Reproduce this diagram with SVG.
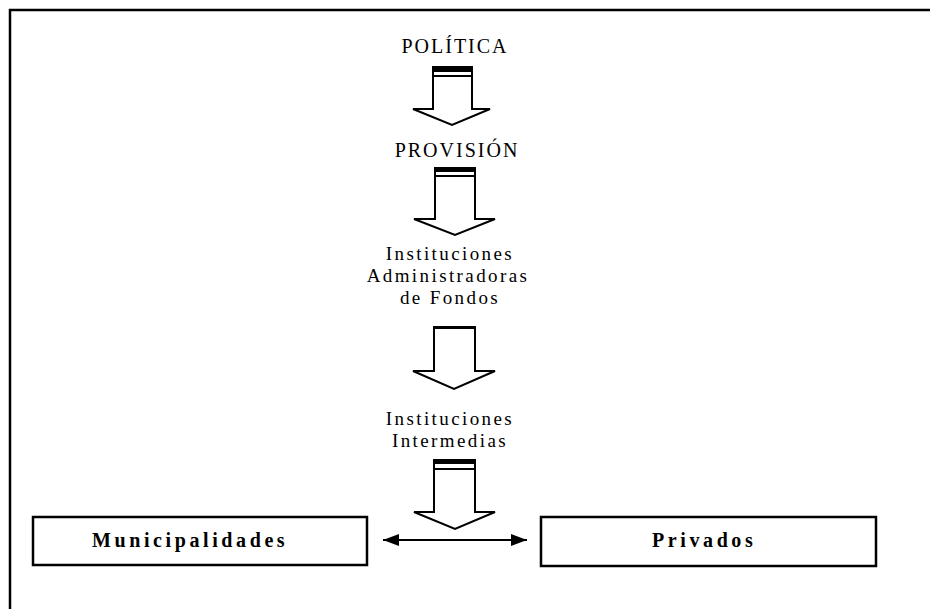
<svg xmlns="http://www.w3.org/2000/svg" width="930" height="609" viewBox="0 0 930 609">
<defs>
<style>
.lbl{font-family:"Liberation Serif","Times New Roman",serif;font-size:19px;fill:#000;text-anchor:middle;letter-spacing:2.4px}
.big{font-family:"Liberation Serif","Times New Roman",serif;font-size:20px;fill:#000;letter-spacing:2px;text-anchor:middle}
.bold{font-family:"Liberation Serif","Times New Roman",serif;font-size:20px;font-weight:bold;fill:#000;letter-spacing:3.6px}
.box{fill:#fff;stroke:#000;stroke-width:2.5}
.arr{fill:#fff;stroke:#000;stroke-width:2;stroke-linejoin:miter}
.line{stroke:#000;stroke-width:2;fill:none}
</style>
<marker id="ah" viewBox="0 0 16 12" refX="16" refY="6" markerWidth="16" markerHeight="12" markerUnits="userSpaceOnUse" orient="auto-start-reverse">
<path d="M0,0 L16,6 L0,12 Z" fill="#000"/>
</marker>
</defs>
<rect width="930" height="609" fill="#fff"/>
<g id="frame">
<path d="M10,609 V10 H930" fill="none" stroke="#000" stroke-width="2.5"/>
</g>
<g id="politica"><text class="big" x="455" y="53">POLÍTICA</text></g>
<g id="provision"><text class="big" x="457" y="157">PROVISIÓN</text></g>
<g id="administradoras">
<text class="lbl" x="450" y="260">Instituciones</text>
<text class="lbl" x="448" y="282">Administradoras</text>
<text class="lbl" x="450" y="304">de Fondos</text>
</g>
<g id="intermedias">
<text class="lbl" x="450" y="425">Instituciones</text>
<text class="lbl" x="450" y="447">Intermedias</text>
</g>
<g id="municipalidades">
<rect class="box" x="33" y="517" width="334" height="48"/>
<text class="bold" x="92" y="547">Municipalidades</text>
</g>
<g id="privados">
<rect class="box" x="541" y="517" width="335" height="49"/>
<text class="bold" x="652" y="547">Privados</text>
</g>
<g id="connectors">
<g id="arrow1">
<path class="arr" d="M433,67 H472 V109 H490 L452,125 L413,109 H433 Z"/>
<rect x="433" y="66" width="39" height="6" fill="#000"/>
<line x1="433" y1="76" x2="472" y2="76" stroke="#000" stroke-width="2"/>
</g>
<g id="arrow2">
<path class="arr" d="M435,168 H475 V219 H495 L455,235 L414,219 H435 Z"/>
<rect x="435" y="167" width="40" height="5" fill="#000"/>
<line x1="435" y1="176" x2="475" y2="176" stroke="#000" stroke-width="2"/>
</g>
<g id="arrow3">
<path class="arr" d="M434,327 H475 V371 H495 L454,389 L413,371 H434 Z"/>
<rect x="434" y="326" width="41" height="3" fill="#000"/>
</g>
<g id="arrow4">
<path class="arr" d="M434,460 H475 V512 H495 L455,529 L414,512 H434 Z"/>
<rect x="434" y="459" width="41" height="5" fill="#000"/>
<line x1="434" y1="469" x2="475" y2="469" stroke="#000" stroke-width="2"/>
</g>
<line class="line" x1="383" y1="540" x2="527" y2="540" marker-start="url(#ah)" marker-end="url(#ah)"/>
</g>
</svg>
